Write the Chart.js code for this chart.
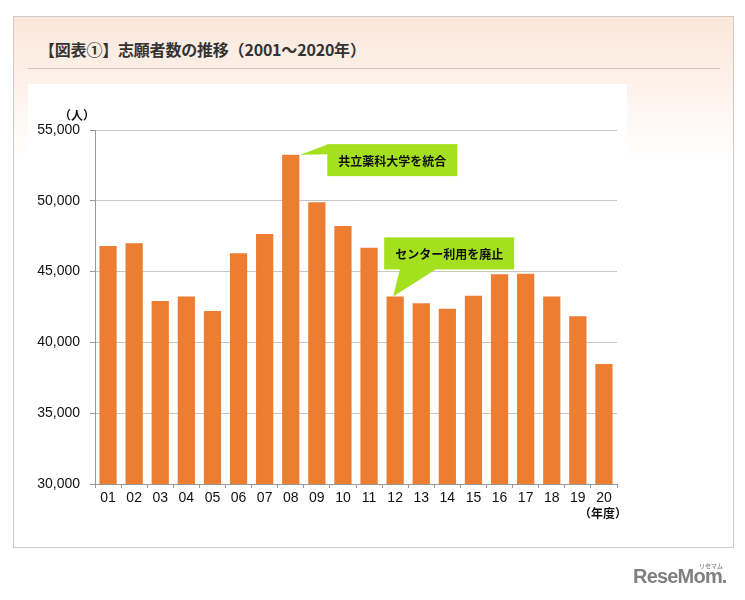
<!DOCTYPE html>
<html><head><meta charset="utf-8">
<script src="https://cdn.jsdelivr.net/npm/chart.js@4/dist/chart.umd.min.js"></script>
<style>
html,body{margin:0;padding:0;background:#fff;width:745px;height:600px;overflow:hidden;font-family:"Noto Sans CJK JP","Noto Sans",sans-serif;}
#box{position:absolute;left:13px;top:16px;width:719px;height:530px;border:1px solid #cfcac6;
 background:linear-gradient(to bottom,#fbe7da 0px,#fdf0e8 60px,#fff 140px);}
#dots{position:absolute;left:28px;top:38px;width:5px;height:21px;
 background-image:radial-gradient(circle,#8e5a4c 45%,transparent 50%);background-size:2px 2px;}
#title{position:absolute;left:39px;top:37px;font-size:16px;font-weight:700;color:#333;white-space:nowrap;line-height:24px;letter-spacing:-0.2px;}
#sep{position:absolute;left:28px;top:68px;width:692px;height:1px;background:#cfc6bf;}
#panel{position:absolute;left:28px;top:84px;width:599px;height:440px;background:#fff;}
#c{position:absolute;left:20px;top:85px;}
.u{position:absolute;font-size:12px;font-weight:700;color:#111;white-space:nowrap;line-height:14px;}
#logo{position:absolute;left:633px;top:564px;font-family:"Liberation Sans",Arial,sans-serif;font-weight:700;font-size:20px;color:#808080;letter-spacing:-0.8px;line-height:24px;}
#logo small{position:absolute;left:66px;top:-2px;font-size:6px;letter-spacing:0;line-height:8px;font-family:"Noto Sans CJK JP";color:#999;}
</style></head>
<body>
<div id="box"></div>
<div id="dots"></div>
<div id="title">【図表①】志願者数の推移（2001～2020年）</div>
<div id="sep"></div>
<div id="panel"></div>
<canvas id="c" width="607" height="440"></canvas>
<div class="u" style="left:59px;top:108px;">（人）</div>
<div class="u" style="left:579px;top:506px;">（年度）</div>
<div id="logo">ReseMom.<small>リセマム</small></div>
<script>
const categories = ["01","02","03","04","05","06","07","08","09","10","11","12","13","14","15","16","17","18","19","20"];
const applicants = [46800,47000,42920,43250,42220,46290,47660,53260,49890,48220,46690,43250,42760,42380,43300,44810,44850,43250,41840,38470];
const yTicks = [30000,35000,40000,45000,50000,55000];
const callouts = [
  {index:7, text:"共立薬科大学を統合"},
  {index:11, text:"センター利用を廃止"}
];

const calloutPlugin = {
  id:'callouts',
  afterDatasetsDraw(chart){
    const ctx = chart.ctx, xs = chart.scales.x, ys = chart.scales.y;
    const green = '#a4e01e';
    ctx.save();
    ctx.font = 'bold 12px "Noto Sans CJK JP"';
    ctx.textAlign='center'; ctx.textBaseline='middle';
    {
      const c = callouts[0];
      const bx = xs.getPixelForValue(c.index), by = ys.getPixelForValue(applicants[c.index]);
      const L = bx+36.5, T = by-10.5, W = 130, H = 32;
      ctx.fillStyle = green;
      ctx.beginPath();
      ctx.moveTo(bx+9.5, by);
      ctx.lineTo(L+1, T);
      ctx.lineTo(L+1, T+10);
      ctx.closePath(); ctx.fill();
      ctx.fillRect(L, T, W, H);
      ctx.fillStyle = '#111';
      ctx.fillText(c.text, L+W/2, T+H/2+1);
    }
    {
      const c = callouts[1];
      const bx = xs.getPixelForValue(c.index), by = ys.getPixelForValue(applicants[c.index]);
      const L = bx-11, T = by-59, W = 130, H = 32;
      ctx.fillStyle = green;
      ctx.fillRect(L, T, W, H);
      ctx.beginPath();
      ctx.moveTo(L+16, T+H-1);
      ctx.lineTo(bx-2, by);
      ctx.lineTo(L+53, T+H-1);
      ctx.closePath(); ctx.fill();
      ctx.fillStyle = '#111';
      ctx.fillText(c.text, L+W/2, T+H/2+1);
    }
    ctx.restore();
  }
};

new Chart(document.getElementById('c'), {
  type:'bar',
  data:{labels:categories, datasets:[{data:applicants, backgroundColor:'#ed7d31', borderWidth:0, barPercentage:0.66, categoryPercentage:1}]},
  options:{
    responsive:false, animation:false,
    layout:{padding:{left:0,right:10,top:45,bottom:0}},
    plugins:{legend:{display:false}, tooltip:{enabled:false}},
    scales:{
      x:{
        grid:{offset:true, drawOnChartArea:false, tickLength:4, tickColor:'#999'},
        border:{color:'#999'},
        ticks:{color:'#111', font:{family:'"Liberation Sans", Arial', size:14}, padding:2, maxRotation:0, autoSkip:false},
        afterFit(s){ s.height = 41; }
      },
      y:{
        min:30000, max:55000,
        afterBuildTicks(s){ s.ticks = yTicks.map(v=>({value:v})); },
        grid:{color:'#c6c6c6', tickColor:'#999', tickLength:5},
        border:{color:'#999'},
        ticks:{color:'#111', font:{family:'"Liberation Sans", Arial', size:14}, padding:10,
          callback:v=>v.toLocaleString('en-US')},
        afterFit(s){ s.width = 75; }
      }
    }
  },
  plugins:[calloutPlugin]
});
</script>
</body></html>
